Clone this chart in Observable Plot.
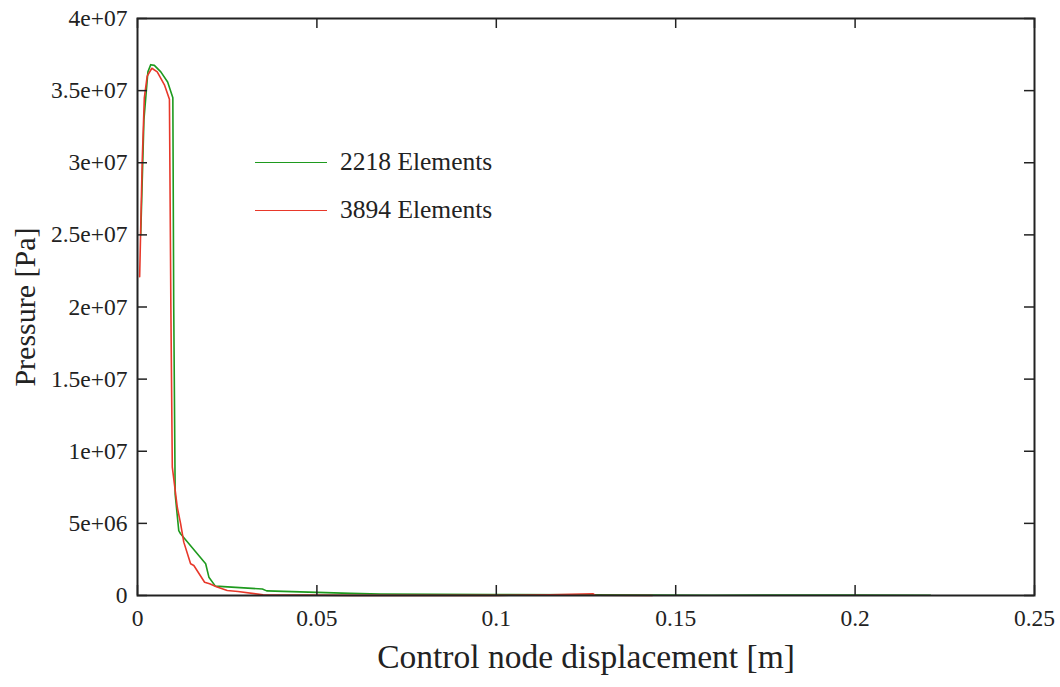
<!DOCTYPE html>
<html>
<head>
<meta charset="utf-8">
<script src="https://cdn.jsdelivr.net/npm/d3@7"></script>
<script src="https://cdn.jsdelivr.net/npm/@observablehq/plot@0.6"></script>
<style>
  html, body { margin: 0; padding: 0; background: #fff; }
  #wrap { position: relative; width: 1060px; height: 687px; font-family: "Liberation Serif", serif; }
  #legend { position: absolute; left: 255px; top: 146px; font-size: 25.5px; color: #222; }
  .row { display: flex; align-items: center; height: 32px; margin-bottom: 16px; }
  .sw { width: 72px; height: 0; border-top: 1.6px solid; margin-right: 13px; }
</style>
</head>
<body>
<div id="wrap"><div id="legend"></div></div>
<script>
// ---- data ----
const seriesNames = ["2218 Elements", "3894 Elements"];
const seriesColors = ["#1e9a1e", "#e8382a"];

const disp2218 = [0.0009, 0.0018, 0.0029, 0.0037, 0.0047, 0.0065, 0.0084, 0.00985, 0.0101, 0.0105, 0.0115, 0.012, 0.019, 0.0199, 0.0217, 0.0348, 0.036, 0.0594, 0.0677, 0.099, 0.127, 0.16, 0.2, 0.221];
const pres2218 = [2.5e7, 3.3e7, 3.63e7, 3.68e7, 3.675e7, 3.63e7, 3.56e7, 3.45e7, 2.0e7, 7.0e6, 4.5e6, 4.28e6, 2.2e6, 1.27e6, 6.5e5, 4.5e5, 3.2e5, 1.5e5, 1.0e5, 7.0e4, 4.0e4, 2.0e4, 3.0e4, 2.0e4];

const disp3894 = [0.0006, 0.0013, 0.0019, 0.0027, 0.0040, 0.0055, 0.0075, 0.0089, 0.0093, 0.0097, 0.0111, 0.012, 0.0129, 0.0148, 0.0157, 0.0187, 0.0201, 0.022, 0.025, 0.028, 0.035, 0.06, 0.10, 0.115, 0.127, 0.1275, 0.1435];
const pres3894 = [2.21e7, 3.0e7, 3.45e7, 3.6e7, 3.655e7, 3.63e7, 3.54e7, 3.44e7, 2.0e7, 8.9e6, 6.1e6, 5.0e6, 3.7e6, 2.2e6, 2.08e6, 9.2e5, 8.1e5, 6.0e5, 3.5e5, 2.8e5, 5.0e4, 1.0e4, 1.0e4, 5.0e4, 1.2e5, 2.0e4, 0];

const xTicks = [0, 0.05, 0.1, 0.15, 0.2, 0.25];
const xTickLabels = ["0", "0.05", "0.1", "0.15", "0.2", "0.25"];
const yTicks = [0, 5e6, 1e7, 1.5e7, 2e7, 2.5e7, 3e7, 3.5e7, 4e7];
const yTickLabels = ["0", "5e+06", "1e+07", "1.5e+07", "2e+07", "2.5e+07", "3e+07", "3.5e+07", "4e+07"];
const xLabel = "Control node displacement [m]";
const yLabel = "Pressure [Pa]";

// ---- build ----
const rows = [
  ...disp2218.map((x, i) => ({x, y: pres2218[i], s: seriesNames[0]})),
  ...disp3894.map((x, i) => ({x, y: pres3894[i], s: seriesNames[1]}))
];

const W = 1060, H = 687, mL = 137, mR = 26, mT = 18, mB = 92;
const pw = W - mL - mR, ph = H - mT - mB, tl = 10;
const ink = "#222";

const chart = Plot.plot({
  width: W, height: H,
  marginLeft: mL, marginRight: mR, marginTop: mT, marginBottom: mB,
  style: {fontFamily: "Liberation Serif, serif", background: "white", color: ink},
  x: {domain: [0, 0.25]},
  y: {domain: [0, 4e7]},
  color: {domain: seriesNames, range: seriesColors},
  marks: [
    Plot.line(rows, {x: "x", y: "y", z: "s", stroke: "s", strokeWidth: 1.6}),
    Plot.tickX(xTicks, {x: d => d, insetTop: ph - tl, stroke: ink, strokeWidth: 1.5}),
    Plot.tickX(xTicks, {x: d => d, insetBottom: ph - tl, stroke: ink, strokeWidth: 1.5}),
    Plot.tickY(yTicks, {y: d => d, insetRight: pw - tl, stroke: ink, strokeWidth: 1.5}),
    Plot.tickY(yTicks, {y: d => d, insetLeft: pw - tl, stroke: ink, strokeWidth: 1.5}),
    Plot.axisX(xTicks, {tickSize: 0, tickPadding: 14, fontSize: 23.5, label: null,
      tickFormat: d => xTickLabels[xTicks.indexOf(d)]}),
    Plot.axisY(yTicks, {tickSize: 0, tickPadding: 10, fontSize: 23.5, label: null,
      tickFormat: d => yTickLabels[yTicks.indexOf(d)]}),
    Plot.frame({stroke: ink, strokeWidth: 2}),
    Plot.text([xLabel], {frameAnchor: "bottom", dy: 72, fontSize: 33.5, fill: ink}),
    Plot.text([yLabel], {frameAnchor: "left", textAnchor: "middle", dx: -112, rotate: -90, fontSize: 30, fill: ink})
  ]
});

const wrap = document.getElementById("wrap");
wrap.insertBefore(chart, wrap.firstChild);

const legend = document.getElementById("legend");
seriesNames.forEach((n, i) => {
  const r = document.createElement("div");
  r.className = "row";
  const sw = document.createElement("div");
  sw.className = "sw";
  sw.style.borderColor = seriesColors[i];
  const t = document.createElement("span");
  t.textContent = n;
  r.appendChild(sw); r.appendChild(t);
  legend.appendChild(r);
});
</script>
</body>
</html>
